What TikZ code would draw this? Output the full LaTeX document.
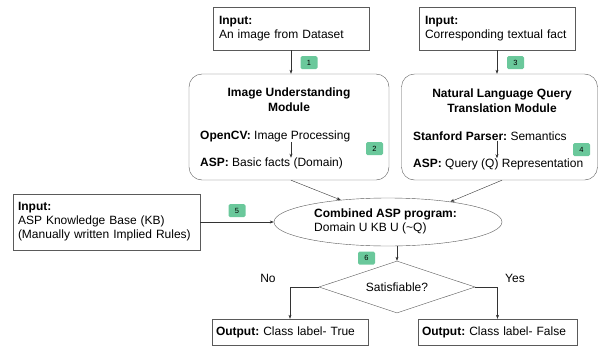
\documentclass[tikz,border=0pt]{standalone}
\usepackage{fontspec}
\setmainfont{Liberation Sans}
\usepackage{xcolor}
\usetikzlibrary{positioning, calc, shapes.geometric, arrows.meta}

\definecolor{badgegreen}{RGB}{106,200,155}
\definecolor{linegray}{RGB}{90,90,90}

\tikzset{
  inbox/.style={draw=linegray, rectangle, align=left, inner sep=0pt, font=\fontsize{12}{14}\selectfont},
  modbox/.style={draw=linegray, rounded corners=13pt, minimum width=200pt, minimum height=106pt},
  plain/.style={inner sep=0pt, align=left, font=\fontsize{12}{14}\selectfont},
  badge/.style={fill=badgegreen, rounded corners=1.5pt, minimum width=17pt, minimum height=13pt, inner sep=0pt, font=\fontsize{7.5}{8}\selectfont},
  conn/.style={draw=black!80, ->, >={Stealth[length=4pt,width=3pt]}}
}
\frenchspacing

\begin{document}
\begin{tikzpicture}[x=1pt, y=-1pt]
        \useasboundingbox (0,0) rectangle (598,346);
        % inputs
        \node[inbox, minimum width=156pt, minimum height=43pt, text width=144pt] (img) at (291,28.5) {\textbf{Input:}\\An image from Dataset};
        \node[inbox, minimum width=156pt, minimum height=43pt, text width=144pt] (txt) at (497,28.5) {\textbf{Input:}\\Corresponding textual fact};
        \node[inbox, minimum width=187pt, minimum height=56pt, text width=177pt] (kb) at (106.5,222) {\textbf{Input:}\\ASP Knowledge Base (KB)\\(Manually written Implied Rules)};
        % modules
        \node[modbox] (mod1) at (289,127) {};
        \node[plain, align=center, font=\fontsize{12}{15}\selectfont\bfseries] (t1) at (289,100) {Image Understanding\\Module};
        \node[plain, anchor=west] (cv) at (200,136) {\textbf{OpenCV:} Image Processing};
        \node[plain, anchor=west] (asp1) at (200,163.5) {\textbf{ASP:} Basic facts (Domain)};
        \node[modbox, minimum width=196pt] (mod2) at (499.5,127) {};
        \node[plain, align=center, font=\fontsize{12}{15}\selectfont\bfseries] (t2) at (502,100.5) {Natural Language Query\\Translation Module};
        \node[plain, anchor=west] (sp) at (413,136) {\textbf{Stanford Parser:} Semantics};
        \node[plain, anchor=west] (asp2) at (413,164) {\textbf{ASP:} Query (Q) Representation};
        % program and decision
        \node[ellipse, draw=linegray, minimum width=228pt, minimum height=48pt, inner sep=0pt] (comb) at (388,222) {};
        \node[plain, anchor=west] (ct) at (314,221) {\textbf{Combined ASP program:}\\Domain U KB U (\textasciitilde Q)};
        \node[diamond, draw=linegray, minimum width=156pt, minimum height=52pt, aspect=3, inner sep=0pt, font=\fontsize{12}{14}\selectfont] (sat) at (397,287) {Satisfiable?};
        % outputs
        \node[inbox, minimum width=156pt, minimum height=26pt, text width=148pt] (outT) at (290,332) {\textbf{Output:} Class label- True};
        \node[inbox, minimum width=159pt, minimum height=26pt, text width=151pt] (outF) at (497.5,332) {\textbf{Output:} Class label- False};
        \node[plain] (no) at (268,278) {No};
        \node[plain] (yes) at (515,278) {Yes};
        % step badges
        \node[badge] (b1) at (309,62.5) {1};
        \node[badge] (b2) at (374.5,148.5) {2};
        \node[badge] (b3) at (515.5,62.5) {3};
        \node[badge] (b4) at (581.5,149.5) {4};
        \node[badge] (b5) at (237,210.5) {5};
        \node[badge] (b6) at (366.5,258) {6};
        % connectors
        \draw[conn] (img.south) -- (img.south |- mod1.north);
        \draw[conn] (txt.south) -- (txt.south |- mod2.north);
        \draw[conn] (cv.south -| img.south) -- (asp1.north -| img.south);
        \draw[conn] (sp.south -| txt.south) -- (asp2.north -| txt.south);
        \draw[conn] ([xshift=2pt]mod1.south) -- (comb.155);
        \draw[conn] ([xshift=2.5pt]mod2.south) -- (comb.18);
        \draw[conn] (kb.east) -- (comb.west);
        \draw[conn] (sat.north |- comb.south) -- (sat.north);
        \draw[conn] (sat.west) -| (outT.north);
        \draw[conn] (sat.east) -| (outF.north);
\end{tikzpicture}
\end{document}
